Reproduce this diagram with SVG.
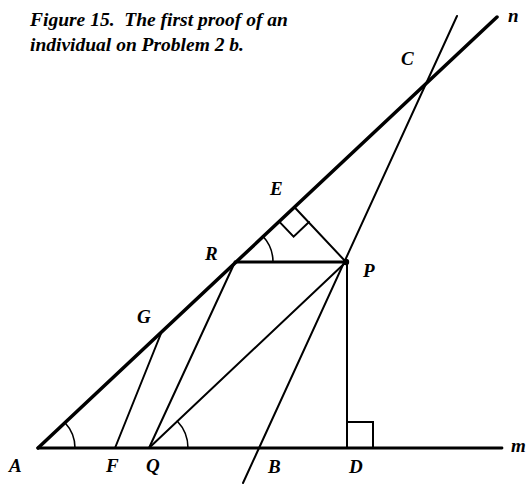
<svg xmlns="http://www.w3.org/2000/svg" width="531" height="485" viewBox="0 0 531 485">
<style>
text{font-family:"Liberation Serif","Times New Roman",serif;font-style:italic;font-weight:bold;fill:#000}
.t{font-size:19.5px}
.l{font-size:19px}
line,path,polyline{stroke:#000;fill:none;stroke-linecap:round}
.thin{stroke-width:2}
.thick{stroke-width:3.5}
.med{stroke-width:2.8}
.arc{stroke-width:1.6}
</style>
<rect width="531" height="485" fill="#fff"/>
<g id="title">
<text class="t" x="30" y="26" xml:space="preserve">Figure 15.  The first proof of an</text>
<text class="t" x="30" y="51">individual on Problem 2 b.</text>
</g>
<g id="connectors">
<line id="line-n" class="thick" x1="38" y1="448" x2="497" y2="17"/>
<line id="line-m" class="med" x1="38" y1="448" x2="502" y2="448"/>
<line id="line-CB" class="thin" x1="457" y1="16" x2="243" y2="483"/>
<line id="RP" class="med" x1="235" y1="262" x2="346" y2="262"/>
<line id="PE" class="thin" x1="346" y1="262" x2="294.3" y2="207"/>
<line id="PD" class="thin" x1="347" y1="262" x2="347" y2="448"/>
<line id="GF" class="thin" x1="162" y1="331" x2="115" y2="448"/>
<line id="RQ" class="thin" x1="235" y1="262" x2="149" y2="448"/>
<line id="QP" class="thin" x1="149" y1="448" x2="346" y2="262"/>
<polyline id="rightE" class="thin" points="279,221.4 293.6,236.7 309,222"/>
<polyline id="rightD" class="thin" points="347,422 373,422 373,448"/>
<path id="angA" class="arc" d="M75,448 A37,37 0 0 0 65,422.7"/>
<path id="angQ" class="arc" d="M188,448 A39,39 0 0 0 177.4,421.2"/>
<path id="angR" class="arc" d="M273,262 A38,38 0 0 0 262.7,236"/>
</g>
<g id="node-P"><circle cx="346" cy="262" r="3.2" fill="#000"/><text class="l" x="363" y="277">P</text></g>
<g id="node-C"><text class="l" x="401" y="65">C</text></g>
<g id="node-n"><text class="l" x="508" y="22">n</text></g>
<g id="node-E"><text class="l" x="270" y="195">E</text></g>
<g id="node-R"><text class="l" x="205" y="260">R</text></g>
<g id="node-G"><text class="l" x="137" y="323">G</text></g>
<g id="node-A"><text class="l" x="9" y="472">A</text></g>
<g id="node-F"><text class="l" x="106" y="472">F</text></g>
<g id="node-Q"><text class="l" x="146" y="472">Q</text></g>
<g id="node-B"><text class="l" x="268" y="473">B</text></g>
<g id="node-D"><text class="l" x="349" y="473">D</text></g>
<g id="node-m"><text class="l" x="511" y="452">m</text></g>
</svg>
